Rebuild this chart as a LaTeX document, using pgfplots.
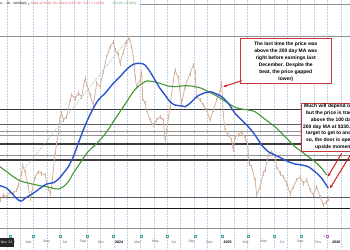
\documentclass[border=0pt]{standalone}
\usepackage{pgfplots}
\pgfplotsset{compat=1.18}
\usepackage{fontspec}
\setmainfont{Liberation Sans}
\usetikzlibrary{arrows.meta}
\definecolor{pricec}{RGB}{212,180,160}
\definecolor{ma100}{RGB}{45,85,205}
\definecolor{ma200}{RGB}{70,150,50}
\definecolor{lvdark}{RGB}{60,60,60}
\definecolor{lvblack}{RGB}{25,25,25}
\definecolor{lvgray}{RGB}{145,145,145}
\definecolor{boxred}{RGB}{200,55,55}
\definecolor{arrred}{RGB}{215,30,30}
\definecolor{gridc}{RGB}{190,208,228}
\definecolor{teal}{RGB}{70,170,160}
\definecolor{purp}{RGB}{185,95,210}
\definecolor{hdrred}{RGB}{225,80,80}
\definecolor{hdrgreen}{RGB}{80,165,90}
\definecolor{tickc}{RGB}{110,110,110}
\begin{document}
\begin{tikzpicture}
\path[use as bounding box] (0,0) rectangle (350bp,250bp);
\begin{axis}[
  at={(0,0)}, anchor=south west,
  width=350bp, height=250bp, scale only axis,
  xmin=0, xmax=350, ymin=0, ymax=250, y dir=reverse,
  axis line style={draw=none},
  xtick={7,20.35,...,350}, xticklabels={},
  ytick=\empty,
  major tick length=0pt,
  xmajorgrids,
  grid style={gridc, line width=0.5bp, dash pattern=on 1.5bp off 1.5bp},
  clip=true,
]
% level lines
\addplot[lvgray, line width=0.8bp] coordinates {(140,4) (350,4)};
\addplot[lvgray, line width=1bp] coordinates {(0,36.7) (350,36.7)};
\addplot[lvdark, line width=1.2bp] coordinates {(0,109.3) (350,109.3)};
\addplot[lvdark!80, line width=1bp] coordinates {(0,124) (350,124)};
\addplot[lvgray, line width=0.9bp] coordinates {(0,131.7) (350,131.7)};
\addplot[lvgray, line width=0.9bp] coordinates {(0,135) (350,135)};
\addplot[lvdark, line width=1.2bp] coordinates {(0,144) (350,144)};
\addplot[lvgray, line width=0.9bp] coordinates {(0,155) (350,155)};
\addplot[lvdark, line width=1.2bp] coordinates {(0,160) (350,160)};
\addplot[lvdark!85, line width=1.1bp] coordinates {(0,197.7) (350,197.7)};
\addplot[lvblack, line width=1.3bp] coordinates {(0,208.3) (350,208.3)};
\addplot[lvgray, line width=0.8bp] coordinates {(0,228) (350,228)};
% trend line
\addplot[gray!70, line width=0.6bp, dash pattern=on 1bp off 1.2bp] coordinates {(25,168) (129,38)};
% price
\addplot[pricec, line width=0.8bp, line join=round, error bars/.cd, y dir=both, y fixed=2.2, error mark=none, error bar style={pricec, line width=0.7bp}] coordinates {
(0,200) (3.3,195) (6.7,196.7) (10,191.7) (13.3,193.3) (16.7,190) (18.3,185) (21.7,173.3) (22.5,165) (25,171.7) (28.3,186.7) (30,198.3) (31.7,193.3) (35,176.7) (38.3,171.7) (41.7,173.3) (45,175) (48.3,188.3) (50,193.3) (51.7,186.7) (55,153.3) (56.7,143.3) (58.3,133.3) (60,116.7) (61.7,113.3) (63.3,120) (66.7,116.7) (70,100) (71.7,95) (75,98.3) (78.3,93.3) (81.7,96.7) (85,78.3) (86.7,85) (90,95) (93.3,105) (96.7,83.3) (100,86.7) (103.3,71.7) (106.7,56.7) (110,46.7) (113.3,41.7) (115,50) (118.3,55) (120,63.3) (123.3,51.7) (126.7,41.7) (129.3,38.3) (131.7,46.7) (133.3,56.7) (135,76.7) (136.7,86.7) (140,80) (141.7,71.7) (142.7,98.3) (145,103.3) (146.7,110) (150,120) (153.3,125) (156.7,120) (160,116.7) (163.3,120) (165,140) (166.7,130) (170,106.7) (173.3,80) (175,70)
(178.3,78.3) (181.7,103.3) (185,86.7) (190,73.3) (193.3,65) (195,71.7) (196.7,96.7) (200,100) (203.3,105) (206.7,110) (210,120) (213.3,110) (216.7,100) (220,90) (221.7,83.3) (223.3,115) (225,130) (228.3,135) (231.7,140) (233.3,150) (235,136.7) (238.3,135) (241.7,131.7) (245,138.3) (247.7,143.3) (249,163.3) (251.7,166.7) (255,180) (256.7,195) (260,186.7) (263.3,173.3) (265,170) (268.3,155) (271.7,151.7) (275,156.7) (276.7,166.7) (280,173.3) (283.3,176.7) (286.7,183.3) (290,193.3) (293.3,186.7) (296.7,180) (300,176.7) (303.3,183.3) (306.7,180) (310,190) (313.3,195) (316.7,186.7) (320,196.7) (323.3,205) (326.7,201.7) (328.3,198.3)
};
% 200 day MA
\addplot[ma200, line width=1.1bp, smooth] coordinates {
(0,166.7) (6.7,171.7) (13.3,176.7) (20,180.7) (26.7,182.7) (33.3,184.3) (40,185.7) (46.7,186.7) (53.3,188.3) (58.3,189) (63.3,186.7) (68.3,181.7) (73.3,173.3) (80,163.3) (86.7,153.3) (93.3,146.7) (100,140) (106.7,131.7) (113.3,121.7) (120,111.7) (126.7,101.7) (133.3,91.7) (140,85) (146.7,81) (153.3,81.7) (160,83.3) (166.7,85.7) (175,86.7) (181.7,86) (188.3,85.7) (195,86.7) (201.7,88.3) (208.3,91.7) (215,95) (221.7,99) (228.3,103.3) (235,107.3) (241.7,109) (248.3,110) (255,111.7) (261.7,116.7) (268.3,121.7) (275,126.7) (281.7,133.3) (288.3,140) (295,146.7) (301.7,151.7) (308.3,156.7) (315,161.7) (321.7,168.3) (326.7,175)
};
% 100 day MA
\addplot[ma100, line width=1.4bp, smooth] coordinates {
(0,185.7) (6.7,188.3) (13.3,195) (18.3,200) (21.7,201) (25,198.3) (33.3,193.3) (40,188.3) (46.7,184) (53.3,182.7) (58.3,179.3) (63.3,173.3) (68.3,166.7) (73.3,156.7) (78.3,143.3) (83.3,130) (88.3,118.3) (93.3,108.3) (98.3,100) (105,93.3) (113.3,83.3) (120,76.7) (126.7,69.3) (133.3,64.3) (140,63.3) (145,65) (150,71.7) (155,80) (160,88.3) (165,95) (170,101.7) (175,105) (181.7,106) (185,106.7) (190,103.3) (196.7,96.7) (203.3,93.3) (210,91.7) (215,93.3) (221.7,96.7) (228.3,103.3) (235,113.3) (241.7,120) (248.3,126.7) (255,135) (261.7,145) (268.3,151.7) (275,155) (281.7,158.3) (288.3,161.7) (295,164) (301.7,165) (308.3,166.7) (315,171.7) (321.7,178.3) (328.3,188.3)
};
% event icons
\addplot[only marks, mark=square*, mark size=1.2bp, mark options={draw=teal, fill=white, line width=0.5bp}] coordinates {
(10,236) (33,236) (60,236) (87,236) (113,236) (141,236) (167,236) (195,236) (222,236) (248,236) (274,236) (301,236)};
\addplot[only marks, mark=square*, mark size=1.2bp, mark options={draw=purp, fill=white, line width=0.5bp}] coordinates {(327,236)};
\node[purp, font=\fontsize{3.5}{4}\selectfont, anchor=east, inner sep=0.3bp] at (axis cs:325.5,236) {4};
% header
\node[anchor=east, font=\fontsize{3.2}{4}\selectfont, inner sep=0pt] at (axis cs:27,4) {Adobe Inc. · 1D · NASDAQ};
\node[circle, fill=hdrgreen, inner sep=0pt, minimum size=1.6bp] at (axis cs:28.8,4) {};
\node[anchor=west, hdrred, font=\fontsize{3.2}{4}\selectfont, inner sep=0pt] at (axis cs:30.5,4) {O344.10 H344.70 L334.14 C337.86 −6.97 (−2.02\%)};
\node[anchor=west, hdrgreen, font=\fontsize{3.2}{4}\selectfont, inner sep=0pt] at (axis cs:112.5,4) {335.45 (+0.69\%)};
% date labels
\begin{scope}[every node/.style={font=\fontsize{3.6}{4}\selectfont, text=tickc, inner sep=0pt}]
\node at (axis cs:11.5,242) {2023};
\node at (axis cs:28.6,242) {Mar};
\node at (axis cs:46.7,242) {May};
\node at (axis cs:64.8,242) {Jul};
\node at (axis cs:82.9,242) {Sep};
\node at (axis cs:101,242) {Nov};
\node[text=black] at (axis cs:119.1,242) {\bfseries 2024};
\node at (axis cs:137.2,242) {Mar};
\node at (axis cs:155.3,242) {May};
\node at (axis cs:173.4,242) {Jul};
\node at (axis cs:191.5,242) {Sep};
\node at (axis cs:209.6,242) {Nov};
\node[text=black] at (axis cs:227.7,242) {\bfseries 2025};
\node at (axis cs:245.8,242) {Mar};
\node at (axis cs:263.9,242) {May};
\node at (axis cs:282,242) {Jul};
\node at (axis cs:300.1,242) {Sep};
\node at (axis cs:318.2,242) {Nov};
\node[text=black] at (axis cs:336.3,242) {\bfseries 2026};
\end{scope}
\fill[black!85] (axis cs:0,238) rectangle (axis cs:13.5,246.5);
\node[text=white, font=\fontsize{3.4}{4}\selectfont, inner sep=0pt] at (axis cs:6.7,242.2) {Nov '22};
% annotation box 1
\draw[boxred, line width=0.9bp, fill=white] (axis cs:240,38.3) rectangle (axis cs:331.7,83.3);
\node[align=center, font=\fontsize{5}{7.05}\selectfont\bfseries, inner sep=0pt] at (axis cs:285.8,61.7) {The last time the price was\\above the 200 day MA was\\right before earnings last\\December. Despite the\\beat, the price gapped\\lower)};
\draw[arrred, line width=1bp, -{Stealth[length=3.5bp, width=3bp]}] (axis cs:241.7,80.7) -- (axis cs:223.3,86.7);
% annotation box 2
\draw[boxred, line width=0.9bp, fill=white] (axis cs:301.7,103.3) rectangle (axis cs:370,151.7);
\begin{scope}[every node/.style={anchor=west, font=\fontsize{5}{6}\selectfont\bfseries, inner sep=0pt}]
\node at (axis cs:304,106.7) {Much will depend on earnings,};
\node at (axis cs:306,113.3) {but the price is trading};
\node at (axis cs:310.7,120) {above the 100 day and};
\node at (axis cs:303,126.7) {200 day MA at \$330. The};
\node at (axis cs:306,133.3) {target to get to and above};
\node at (axis cs:306,140.7) {so, the door is open for};
\node at (axis cs:315,147.3) {upside momentum.};
\end{scope}
\draw[arrred, line width=1bp, -{Stealth[length=3.5bp, width=3bp]}] (axis cs:341.7,153.3) -- (axis cs:327.7,176.7);
\draw[arrred, line width=1bp, -{Stealth[length=3.5bp, width=3bp]}] (axis cs:351,154) -- (axis cs:330,188.3);
\end{axis}
\end{tikzpicture}
\end{document}
